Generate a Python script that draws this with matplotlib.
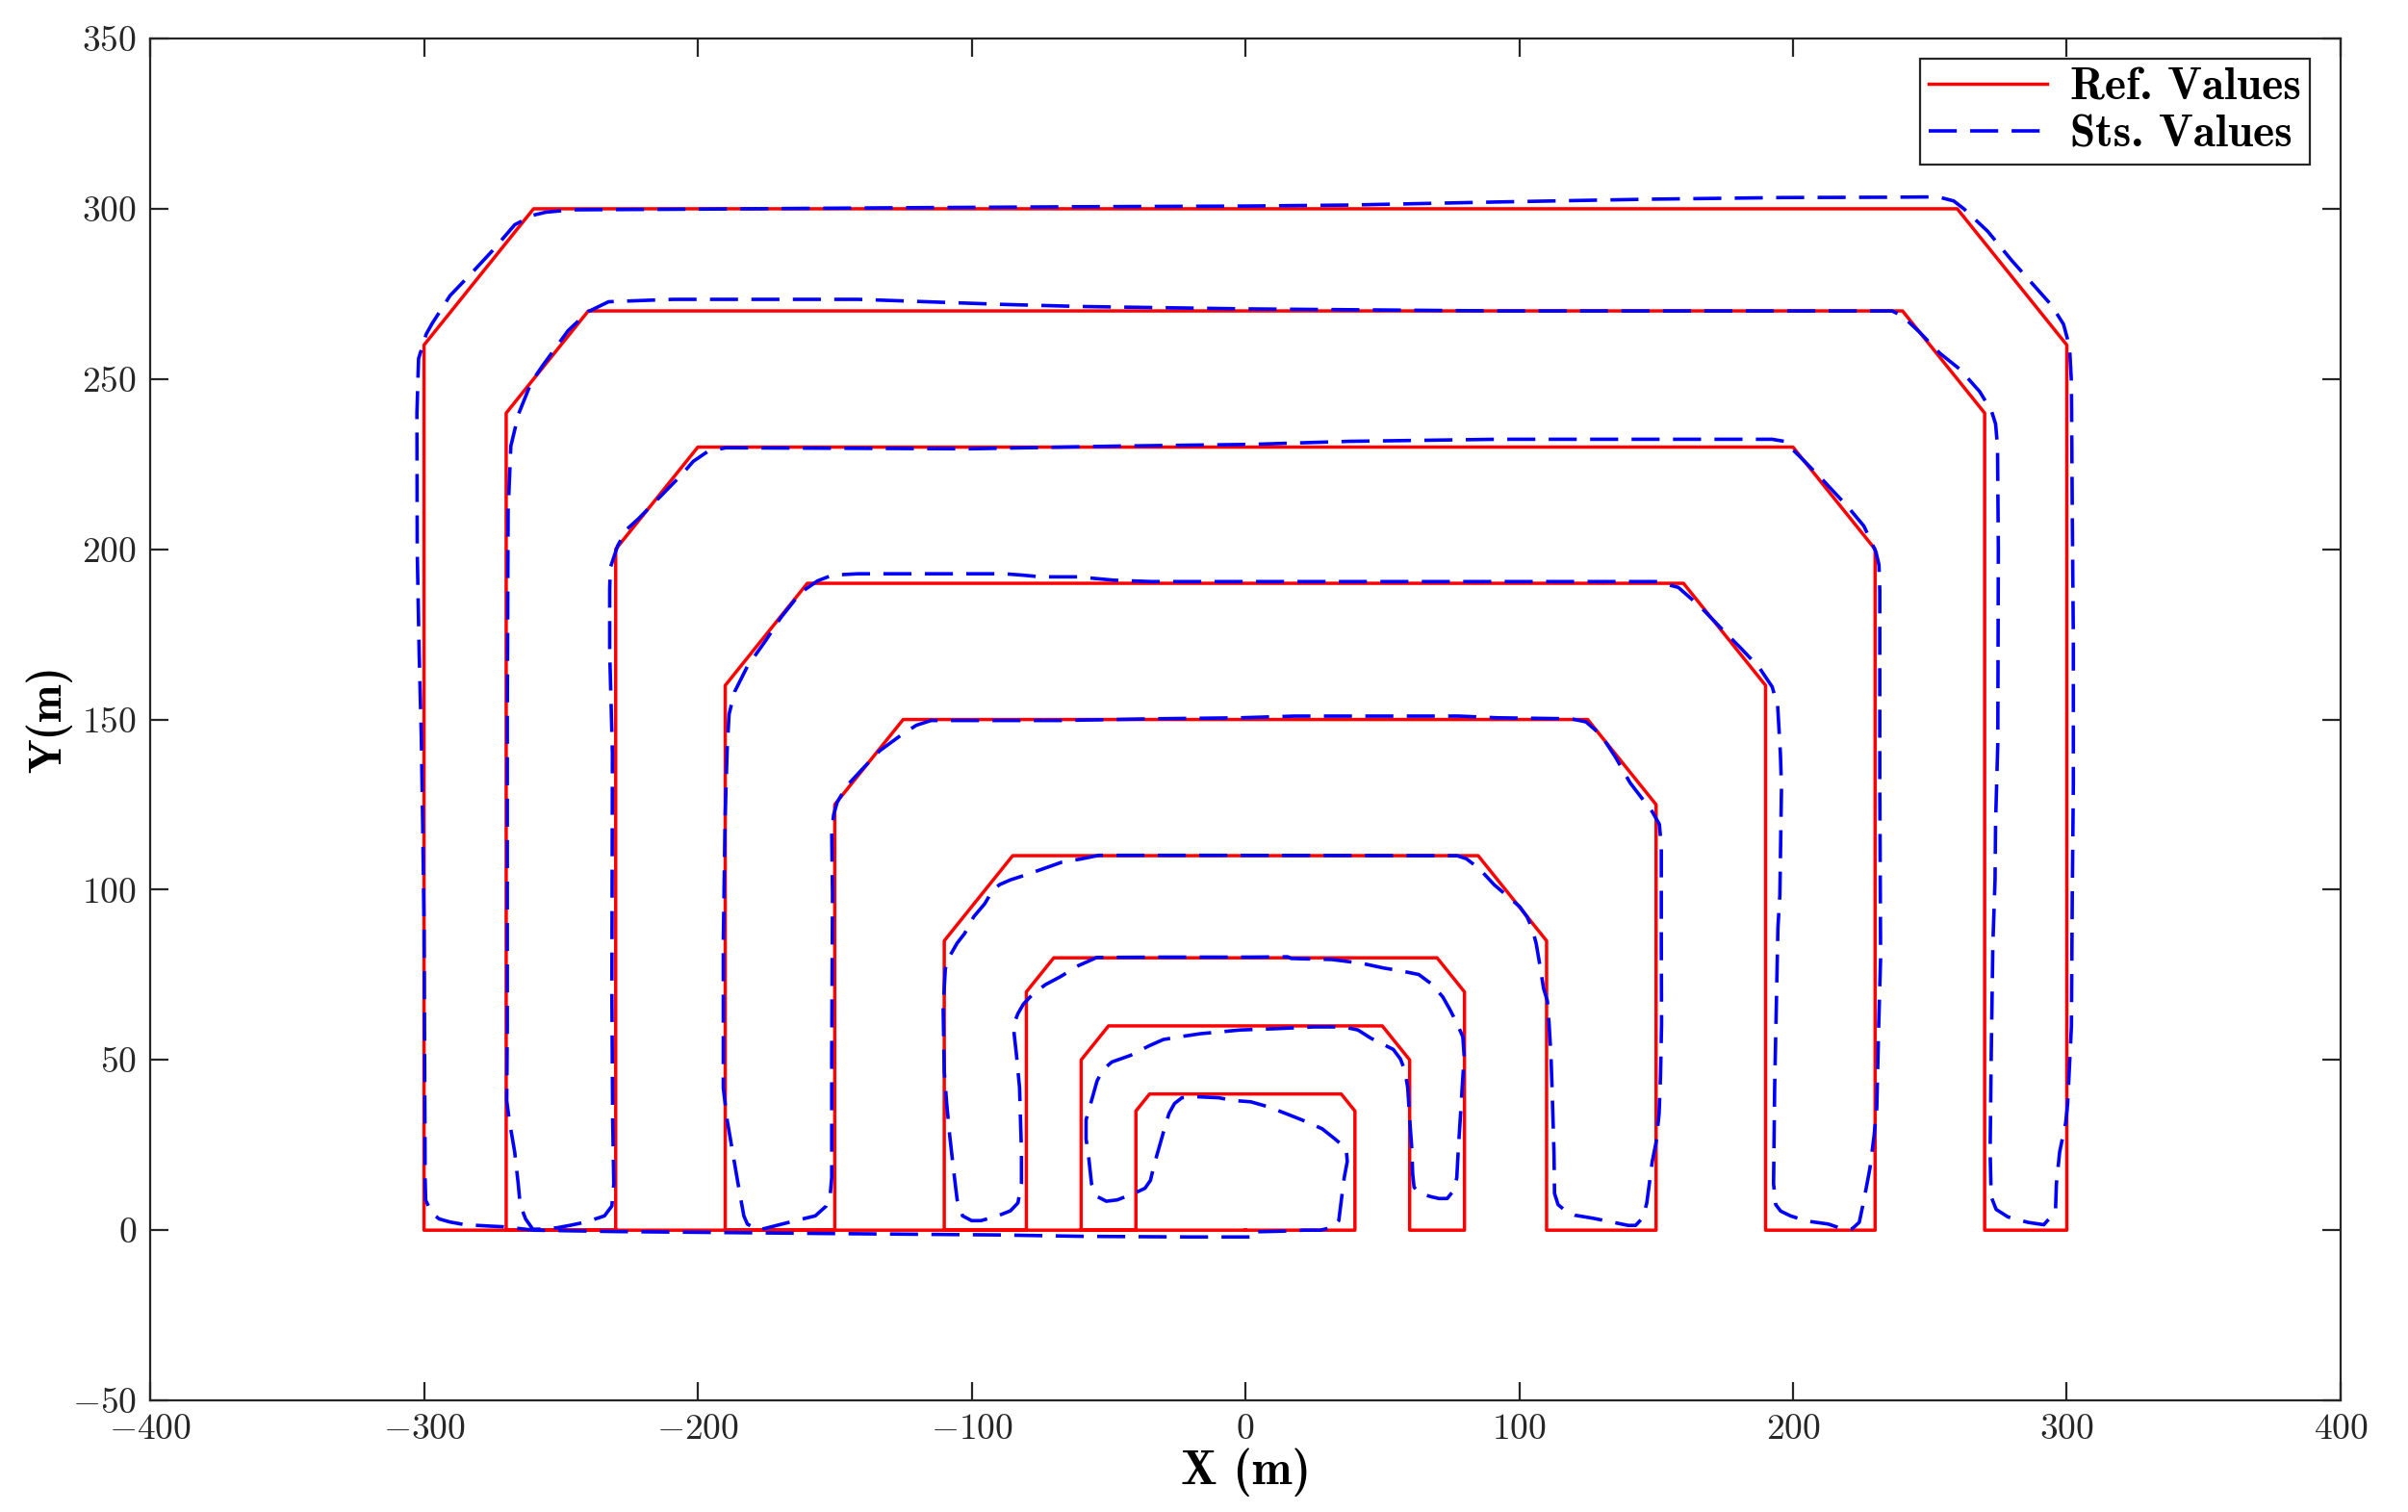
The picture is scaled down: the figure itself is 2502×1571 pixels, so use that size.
import numpy as np
import matplotlib
matplotlib.use('Agg')
import matplotlib.pyplot as plt

plt.rcParams['font.family'] = 'cmr10'
plt.rcParams['mathtext.fontset'] = 'cm'
plt.rcParams['axes.formatter.use_mathtext'] = True
plt.rcParams['lines.scale_dashes'] = False

# reference path (spiral of nested inverted U shapes, back to origin)
ref_x = [0, -300, -300, -260, 260, 300, 300, 270, 270, 240, -240, -270, -270,
         -230, -230, -200, 200, 230, 230, 190, 190, 160, -160, -190, -190,
         -150, -150, -125, 125, 150, 150, 110, 110, 85, -85, -110, -110,
         -80, -80, -70, 70, 80, 80, 60, 60, 50, -50, -60, -60,
         -40, -40, -35, 35, 40, 40, 0]
ref_y = [0, 0, 260, 300, 300, 260, 0, 0, 240, 270, 270, 240, 0,
         0, 200, 230, 230, 200, 0, 0, 160, 190, 190, 160, 0,
         0, 125, 150, 150, 125, 0, 0, 85, 110, 110, 85, 0,
         0, 70, 80, 80, 70, 0, 0, 50, 60, 60, 50, 0,
         0, 35, 40, 40, 35, 0, 0]

# tracked path
sts_x = [1.5, -20, -60, -90, -120, -150, -190, -230, -245, -260, -271, -276, -285, -290.5,
         -294.5, -297.2, -299.4, -299.6, -299.8, -300, -300.5, -301, -301.8, -302.5, -302.6,
         -302, -299.2, -297.2, -290.5, -283.1, -275, -266.9, -260.2, -255.5, -246, -200, -128,
         -61, 0, 38, 92, 146, 196, 236, 253, 258.7, 262.4, 271.1, 279.8, 287.1, 294.4, 298.8,
         301, 301.7, 302, 302.4, 302.4, 302, 301.7, 301, 300.3, 299.6, 297.4, 296.2, 295.9,
         294.5, 291.6, 285.8, 278.5, 274.2, 272.4, 272, 272.4, 273, 273.8, 274, 274.8, 275,
         274.7, 274, 272.5, 268.2, 260.9, 253.6, 246.3, 240, 236.2, 178, 92, 0, -60, -88,
         -120, -141.5, -209, -232.6, -240, -247.4, -256.8, -260.8, -265.5, -268.3, -269.3,
         -269.6, -269.6, -269.8, -268.9, -266.9, -265.6, -264.9, -262.9, -260.3, -256.9,
         -251.5, -246.8, -240.8, -234.1, -231.4, -230.7, -231.1, -231.4, -231.2, -232.2,
         -232.2, -232, -229.3, -225.9, -221.9, -213.8, -205.8, -201.7, -196.6, -189.9, -101,
         -47, 2, 38, 92, 192.4, 196.8, 203.4, 211.4, 220.1, 225.9, 230.3, 231.4, 231.7, 231.7,
         232, 232, 231.3, 230.6, 229.6, 228.1, 225.9, 224.2, 221.6, 218.7, 212.9, 204.9, 199.1,
         195.5, 193.7, 192.9, 193.3, 194, 194.5, 195.2, 195.5, 195.8, 195.4, 194.4, 192.4,
         187.7, 181, 172.9, 166.2, 158.1, 150, -2, -34.4, -47.9, -61.4, -74.8, -81.5, -88,
         -141.5, -150.9, -156.3, -162.4, -169.8, -175.2, -181.9, -186.6, -188.6, -189.3, -190,
         -190.7, -190.7, -189.3, -187.3, -185.3, -183.2, -181.9, -177.9, -171.2, -161.8,
         -157.1, -153.1, -151.7, -151.1, -151.1, -150.8, -151.1, -150.4, -149.1, -145.7,
         -140.3, -133.6, -125.6, -120.2, -114.8, -67.7, -34, -2, 18, 78, 92, 119, 124.4, 129.8,
         135.2, 140.5, 145.9, 148.6, 151.2, 151.9, 151.9, 152, 151.6, 151.1, 150, 148.6, 147.5,
         146.6, 145.2, 142.5, 139.8, 134.4, 127, 120.3, 116.9, 114.2, 112.9, 112.7, 112, 111.6,
         110.9, 110.3, 108.9, 107.6, 106.2, 104.9, 102.9, 100.2, 96.2, 90.8, 85.4, 80.7, 77.3,
         72, -15.8, -53.5, -60.3, -67, -73.7, -80.4, -85.8, -89.8, -92.5, -95.2, -99.2, -102.6,
         -105.3, -108, -109.6, -110.4, -110, -109.1, -108, -106.7, -105.3, -103.3, -100, -96.6,
         -90.5, -85.8, -83.1, -81.8, -81.8, -82.5, -83.6, -84.5, -84.5, -83.1, -81.1, -77.8,
         -73.1, -67.7, -61, -54.3, -30, 2, 15.4, 16.8, 31.6, 42.4, 50.5, 55.9, 63.3, 68, 72.1,
         74.7, 77.4, 79.4, 79.9, 78.8, 77.7, 77.2, 76.1, 73.7, 70.7, 68, 64, 61.6, 61.1, 60.7,
         60, 59.3, 58.2, 56.6, 54, 50.5, 45.8, 41.1, 35.8, 25, 11.6, -1.9, -8.5, -16.5, -23.2,
         -30, -35.3, -42.1, -48.8, -52.2, -54.2, -56.2, -58.2, -58.2, -57.2, -56.2, -54.2,
         -50.8, -46.8, -40.7, -36.7, -34.7, -33.3, -31.3, -29.3, -27.9, -25.9, -23.2, -17.9,
         -9.8, -4.4, 2, 8.5, 15.9, 20.6, 28, 32.7, 36.8, 37.2, 36.1, 35.2, 34.1, 32.1, 27.4,
         21.3, 13.3, 1.8]
sts_y = [-2.0, -2.0, -1.8, -1.4, -1.2, -1.0, -0.7, -0.4, -0.2, 0.0, 1.0, 1.2, 1.6, 2.4,
         3.3, 5.1, 8.8, 15, 50, 90, 120, 145, 170, 200, 240,
         256, 263.2, 266.1, 274.5, 280.7, 287.7, 295.3, 298.1, 299.0, 299.7, 299.9, 300.3,
         300.6, 300.8, 301.1, 302, 302.8, 303.3, 303.4, 303.5, 302.3, 300, 293.4, 284.9, 278.3, 271.7, 266.1,
         259.5, 249.1, 211.4, 173, 131, 98, 60, 48.4, 37, 31.5, 23, 13.6, 6.1,
         4.2, 1.6, 2.3, 3.9, 6.1, 9.8, 23, 51.2, 84, 103, 120, 143, 200,
         230.2, 236.8, 240.6, 246.3, 252.9, 257.6, 263.7, 268.5, 270, 270, 270, 270.6, 271.3, 271.9,
         272.8, 273.4, 273.4, 272.7, 269.8, 264.2, 253.8, 249.1, 239.7, 230.3, 211,
         150, 60, 38, 32.4, 23, 13.6, 7.5, 3.3, 0.3, 0.3,
         0.7, 1.4, 2.4, 4.2, 7.1, 13.6, 32.4, 70, 140, 170,
         188, 194.5, 201, 205.9, 208.8, 215.4, 222, 225.8, 228.6, 229.8, 229.5,
         230.3, 230.8, 231.7, 232.3, 232.3, 231.7, 226.5, 219.9, 212.4, 206.8, 199.2, 195.4, 187.9, 131.4,
         84.3, 80, 60, 36, 27.6, 18.2, 8.8, 2.3, 0.4, 0.2, 1.8, 2.7, 4.2,
         5.6, 7.5, 13.6, 41.9, 70.1, 89, 98.4, 115, 130, 140, 154, 159.6,
         165.2, 170.9, 177.5, 183.1, 188.8, 190.5, 190.5, 190.5, 190.9, 191.9, 191.9, 192.4, 192.8,
         192.8, 192.4, 190.7, 187.3, 179.8, 173.2, 165.6, 158.1, 151.5, 141.1, 122.3,
         84.6, 41.8, 32.4, 23, 13.6, 4.2, 1.8, 0, 1.4, 3.3,
         4.2, 7.1, 9.9, 15.5, 51.3, 98.4, 117.2, 122, 125.7, 130.4,
         135.1, 140.8, 145.5, 148.3, 149.7, 149.7, 150.2, 150.5, 151, 151, 150.5, 150.2, 149.3, 145.5,
         138.9, 131.4, 125.7, 122.9, 119.2, 112.6, 84.3, 60.7, 45, 34.3, 25.8, 20.2, 13.6,
         8, 3.7, 1.4, 1.4, 2.3, 3.5, 4.4, 5.7, 7.5, 10.8, 23, 41.8, 51.3,
         60.7, 67.3, 71, 77.6, 84.2, 88.2, 92, 95, 97.8, 101.5, 106.2, 109.1, 110,
         110, 110.1, 110.1, 109, 108.1, 106.2, 104.3, 102.9, 101.5, 99.6, 95.9, 92.1, 87.1,
         84.3, 80.5, 76.8, 65.5, 46.6, 37.2, 27.8, 18.4, 9, 4.2, 2.8, 2.8,
         4.2, 5.7, 8, 13.6, 23, 41.9, 51.3, 57.9, 60.7, 63.6, 66.4, 69.2,
         72.1, 74.4, 77.7, 80.1, 80.2, 80.2, 80.3, 79.8, 79.5, 78.4, 77, 76.3, 75.1, 72.3, 68.5,
         64.8, 60.5, 56.8, 51.2, 37, 22.9, 15.4, 11.7, 9.3, 9.3, 9.8, 10.7, 12.6, 16.4, 24.9,
         32.4, 41.8, 47, 50.3, 53.1, 54.5, 56.4, 58.8, 59.7, 59.7, 59.2, 58.8, 58.3, 57.7, 56.9,
         56, 54.1, 51.3, 49.4, 47, 43.8, 38.1, 32.4, 26.8, 21.1, 13.6, 9.9,
         8.5, 8.9, 10.8, 12.3, 14.6, 19.3, 25, 30.6, 34.3, 37.2, 38.9, 39.2,
         38.9, 38.1, 37.7, 36.2, 33.9, 32.4, 29.8, 26.8, 24, 20.2, 15.5, 9.9, 2.8, 0.9, 0,
         0, -0.3, -0.5]

fig = plt.figure(figsize=(12.51, 7.855), dpi=200)
ax = fig.add_axes([0.0624, 0.0738, 0.9096, 0.9007])

ax.plot(ref_x, ref_y, color='#ff0000', lw=1.25, label='Ref. Values')
ax.plot(sts_x, sts_y, color='#0000ff', lw=1.3, linestyle=(0, (10.5, 5.0)),
        label='Sts. Values')

ax.set_xlim(-400, 400)
ax.set_ylim(-50, 350)
ax.set_xticks(np.arange(-400, 401, 100))
ax.set_yticks(np.arange(-50, 351, 50))
ax.tick_params(direction='in', length=7, width=0.8, top=True, right=True,
               labelsize=13.5, colors='#262626', pad=5)
for s in ax.spines.values():
    s.set_linewidth(0.8)
    s.set_color('#262626')

ax.set_xlabel('X (m)', fontfamily='cmb10', fontsize=18, labelpad=1)
ax.set_ylabel('Y(m)', fontfamily='cmb10', fontsize=17, labelpad=0)

leg = ax.legend(loc='upper right', bbox_to_anchor=(0.986, 0.985),
                prop={'family': 'cmb10', 'size': 17},
                fancybox=False, framealpha=1, edgecolor='#262626',
                handlelength=2.6, handletextpad=0.5, borderpad=0.2,
                labelspacing=0.15, borderaxespad=0)
leg.get_frame().set_linewidth(0.8)

fig.savefig('out.png', dpi=200)
